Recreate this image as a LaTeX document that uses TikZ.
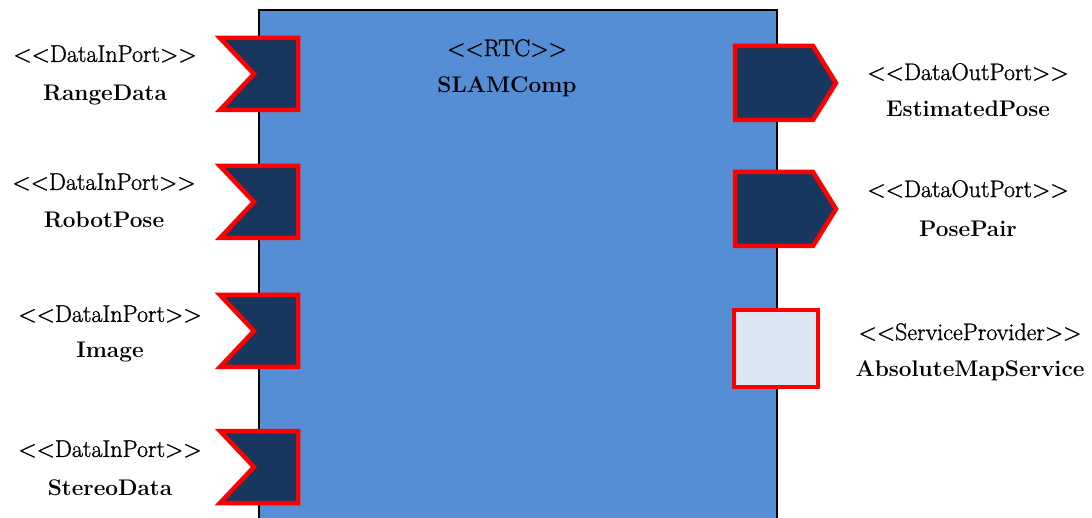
\documentclass[tikz,border=0pt]{standalone}
\usepackage{fontspec}
\setmainfont{Latin Modern Roman}
\newfontfamily\stereofont[FakeBold=1.2]{Latin Modern Roman}
\definecolor{compblue}{HTML}{558ED5}
\definecolor{portnavy}{HTML}{17375E}
\definecolor{svcfill}{HTML}{DCE6F2}
\definecolor{portred}{HTML}{FF0000}
\tikzset{
  portshape/.style={draw=portred, fill=portnavy, line width=4.5pt, line join=miter},
  svcshape/.style={draw=portred, fill=svcfill, line width=4.5pt},
  comp/.style={draw=black, fill=compblue, line width=1.3pt},
  stereo/.style={font=\stereofont\fontsize{24}{26}\selectfont, inner sep=0pt, anchor=center},
  pname/.style={font=\fontsize{22.6}{26}\selectfont\bfseries, inner sep=0pt, anchor=center}
}
\begin{document}
\begin{tikzpicture}[x=1pt,y=-1pt]
\useasboundingbox (0,0) rectangle (1092,518);
\clip (0,0) rectangle (1092,518);
\draw[comp] (259,10) rectangle (777,540);
\node[stereo] (rtcst) at (507,48) {<{}<RTC>{}>};
\node[pname] (rtcname) at (507,87) {SLAMComp};
% input ports
\foreach \n/\cy/\lab/\sy/\ny/\lx in {a/74/RangeData/54/95/105, b/202/RobotPose/182/220/104, c/331/Image/314/352/110, d/467/StereoData/449/488/110}{
  \draw[portshape] (220,\cy-36) -- (298,\cy-36) -- (298,\cy+36) -- (220,\cy+36) -- (254,\cy) -- cycle;
  \node[stereo] (\n st) at (\lx,\sy) {<{}<DataInPort>{}>};
  \node[pname] (\n name) at (\lx,\ny) {\lab};
}
% output ports
\foreach \n/\cy/\lab/\sy/\ny in {e/83/EstimatedPose/72/109, f/209/PosePair/189/229}{
  \draw[portshape] (735,\cy-37) -- (813,\cy-37) -- (836,\cy) -- (813,\cy+37) -- (735,\cy+37) -- cycle;
  \node[stereo] (\n st) at (968,\sy) {<{}<DataOutPort>{}>};
  \node[pname] (\n name) at (968,\ny) {\lab};
}
% service port
\draw[svcshape] (734,310) rectangle (818,387);
\node[stereo] (gst) at (970,332) {<{}<ServiceProvider>{}>};
\node[pname] (gname) at (970,371) {AbsoluteMapService};
\end{tikzpicture}
\end{document}
